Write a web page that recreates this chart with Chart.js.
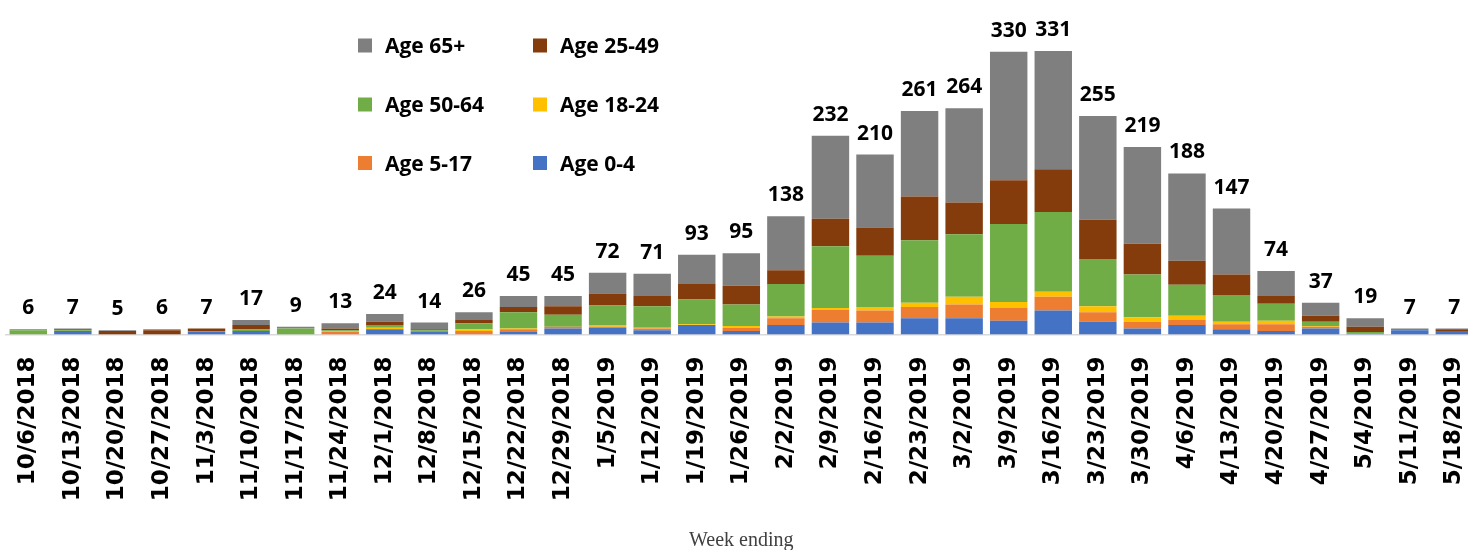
<!DOCTYPE html>
<html>
<head>
<meta charset="utf-8">
<script src="https://cdn.jsdelivr.net/npm/chart.js@4.4.0/dist/chart.umd.min.js"></script>
<style>
  html, body { margin: 0; padding: 0; background: #ffffff; overflow: hidden; width: 1468px; height: 550px; }
  #wrap { position: relative; width: 1504px; height: 550px; }
</style>
</head>
<body>
<div id="wrap"><canvas id="c" width="1504" height="550" style="width:1504px;height:550px;"></canvas></div>
<script>
const weeks = ["10/6/2018","10/13/2018","10/20/2018","10/27/2018","11/3/2018","11/10/2018","11/17/2018","11/24/2018","12/1/2018","12/8/2018","12/15/2018","12/22/2018","12/29/2018","1/5/2019","1/12/2019","1/19/2019","1/26/2019","2/2/2019","2/9/2019","2/16/2019","2/23/2019","3/2/2019","3/9/2019","3/16/2019","3/23/2019","3/30/2019","4/6/2019","4/13/2019","4/20/2019","4/27/2019","5/4/2019","5/11/2019","5/18/2019"];

const age0_4   = [0,4,0,0,3,4,0,0,6,3,0,3,7,8,5,11,4,11,14,14,19,19,16,28,15,7,11,6,4,7,1,5,4];
const age5_17  = [0,0,0,0,1,0,0,3,0,1,4,3,2,1,2,0,4,8,15,14,13,16,15,16,11,8,6,6,8,2,0,0,0];
const age18_24 = [0,0,0,0,0,0,0,1,2,0,2,1,0,2,1,1,2,2,2,4,5,9,7,6,7,5,5,3,4,1,0,0,0];
const age50_64 = [5,1,0,0,0,2,7,1,3,1,7,19,14,23,25,29,25,38,72,60,73,73,91,93,55,50,36,31,20,5,2,0,0];
const age25_49 = [0,1,4,5,3,5,0,2,4,1,4,6,10,14,12,18,22,16,32,33,51,37,51,50,46,36,28,24,9,7,6,0,2];
const age65p   = [1,1,1,1,0,6,2,6,9,8,9,13,12,24,26,34,38,63,97,85,100,110,150,138,121,113,102,77,29,15,10,2,1];

const seriesLabels = ["Age 0-4","Age 5-17","Age 18-24","Age 50-64","Age 25-49","Age 65+"];
const seriesColors = ["#4472C4","#ED7D31","#FFC000","#70AD47","#843C0C","#7F7F7F"];
const seriesData = [age0_4, age5_17, age18_24, age50_64, age25_49, age65p];

const legendOrder = ["Age 65+","Age 25-49","Age 50-64","Age 18-24","Age 5-17","Age 0-4"];

const datasets = seriesLabels.map((lab, i) => ({
  label: lab,
  data: seriesData[i],
  backgroundColor: seriesColors[i],
  borderWidth: 0,
  barPercentage: 0.84,
  categoryPercentage: 1.0
}));

const totalsPlugin = {
  id: 'totals',
  afterDatasetsDraw(chart) {
    const ctx = chart.ctx;
    const xs = chart.scales.x, ys = chart.scales.y;
    ctx.save();
    ctx.font = "bold 21px 'Open Sans', sans-serif";
    ctx.fillStyle = "#000000";
    ctx.textAlign = "center";
    ctx.textBaseline = "alphabetic";
    weeks.forEach((w, i) => {
      let sum = 0;
      chart.data.datasets.forEach(ds => { sum += ds.data[i]; });
      const x = xs.getPixelForValue(i);
      const y = ys.getPixelForValue(sum);
      ctx.fillText(String(sum), x, y - 15);
    });
    ctx.restore();
  }
};

const legendPlugin = {
  id: 'gridLegend',
  afterDraw(chart) {
    const ctx = chart.ctx;
    const colX = [358, 533];
    const rowY = [45.5, 104.5, 163];
    ctx.save();
    ctx.font = "bold 21px 'Open Sans', sans-serif";
    ctx.textAlign = "left";
    ctx.textBaseline = "alphabetic";
    legendOrder.forEach((lab, k) => {
      const idx = chart.data.datasets.findIndex(d => d.label === lab);
      const ds = chart.data.datasets[idx];
      const cx = colX[k % 2];
      const cy = rowY[Math.floor(k / 2)];
      ctx.fillStyle = ds.backgroundColor;
      ctx.fillRect(cx, cy - 7, 14, 14);
      ctx.fillStyle = "#000000";
      ctx.fillText(lab, cx + 27, cy + 7.5);
    });
    ctx.restore();
  }
};

new Chart(document.getElementById('c'), {
  type: 'bar',
  data: { labels: weeks, datasets: datasets },
  options: {
    responsive: false,
    animation: false,
    devicePixelRatio: 1,
    layout: { padding: { left: 6, right: 3.5, top: 9, bottom: 0 } },
    plugins: {
      legend: { display: false },
      tooltip: { enabled: false },
      title: { display: false }
    },
    scales: {
      x: {
        stacked: true,
        offset: true,
        grid: { display: false, drawTicks: false },
        border: { display: true, color: '#d9d9d9', width: 1.5 },
        ticks: {
          autoSkip: false,
          maxRotation: 90,
          minRotation: 90,
          padding: 22,
          color: '#000000',
          font: { family: "'DejaVu Sans', sans-serif", size: 23, weight: 'bold' }
        },
        title: {
          display: true,
          text: 'Week ending',
          color: '#404040',
          font: { family: "'Liberation Serif', 'Times New Roman', serif", size: 20 },
          padding: { top: 0, bottom: -3 }
        },
        afterFit(scale) { scale.height = 215.5; }
      },
      y: {
        stacked: true,
        display: false,
        min: 0,
        max: 380
      }
    }
  },
  plugins: [totalsPlugin, legendPlugin]
});
</script>
</body>
</html>
